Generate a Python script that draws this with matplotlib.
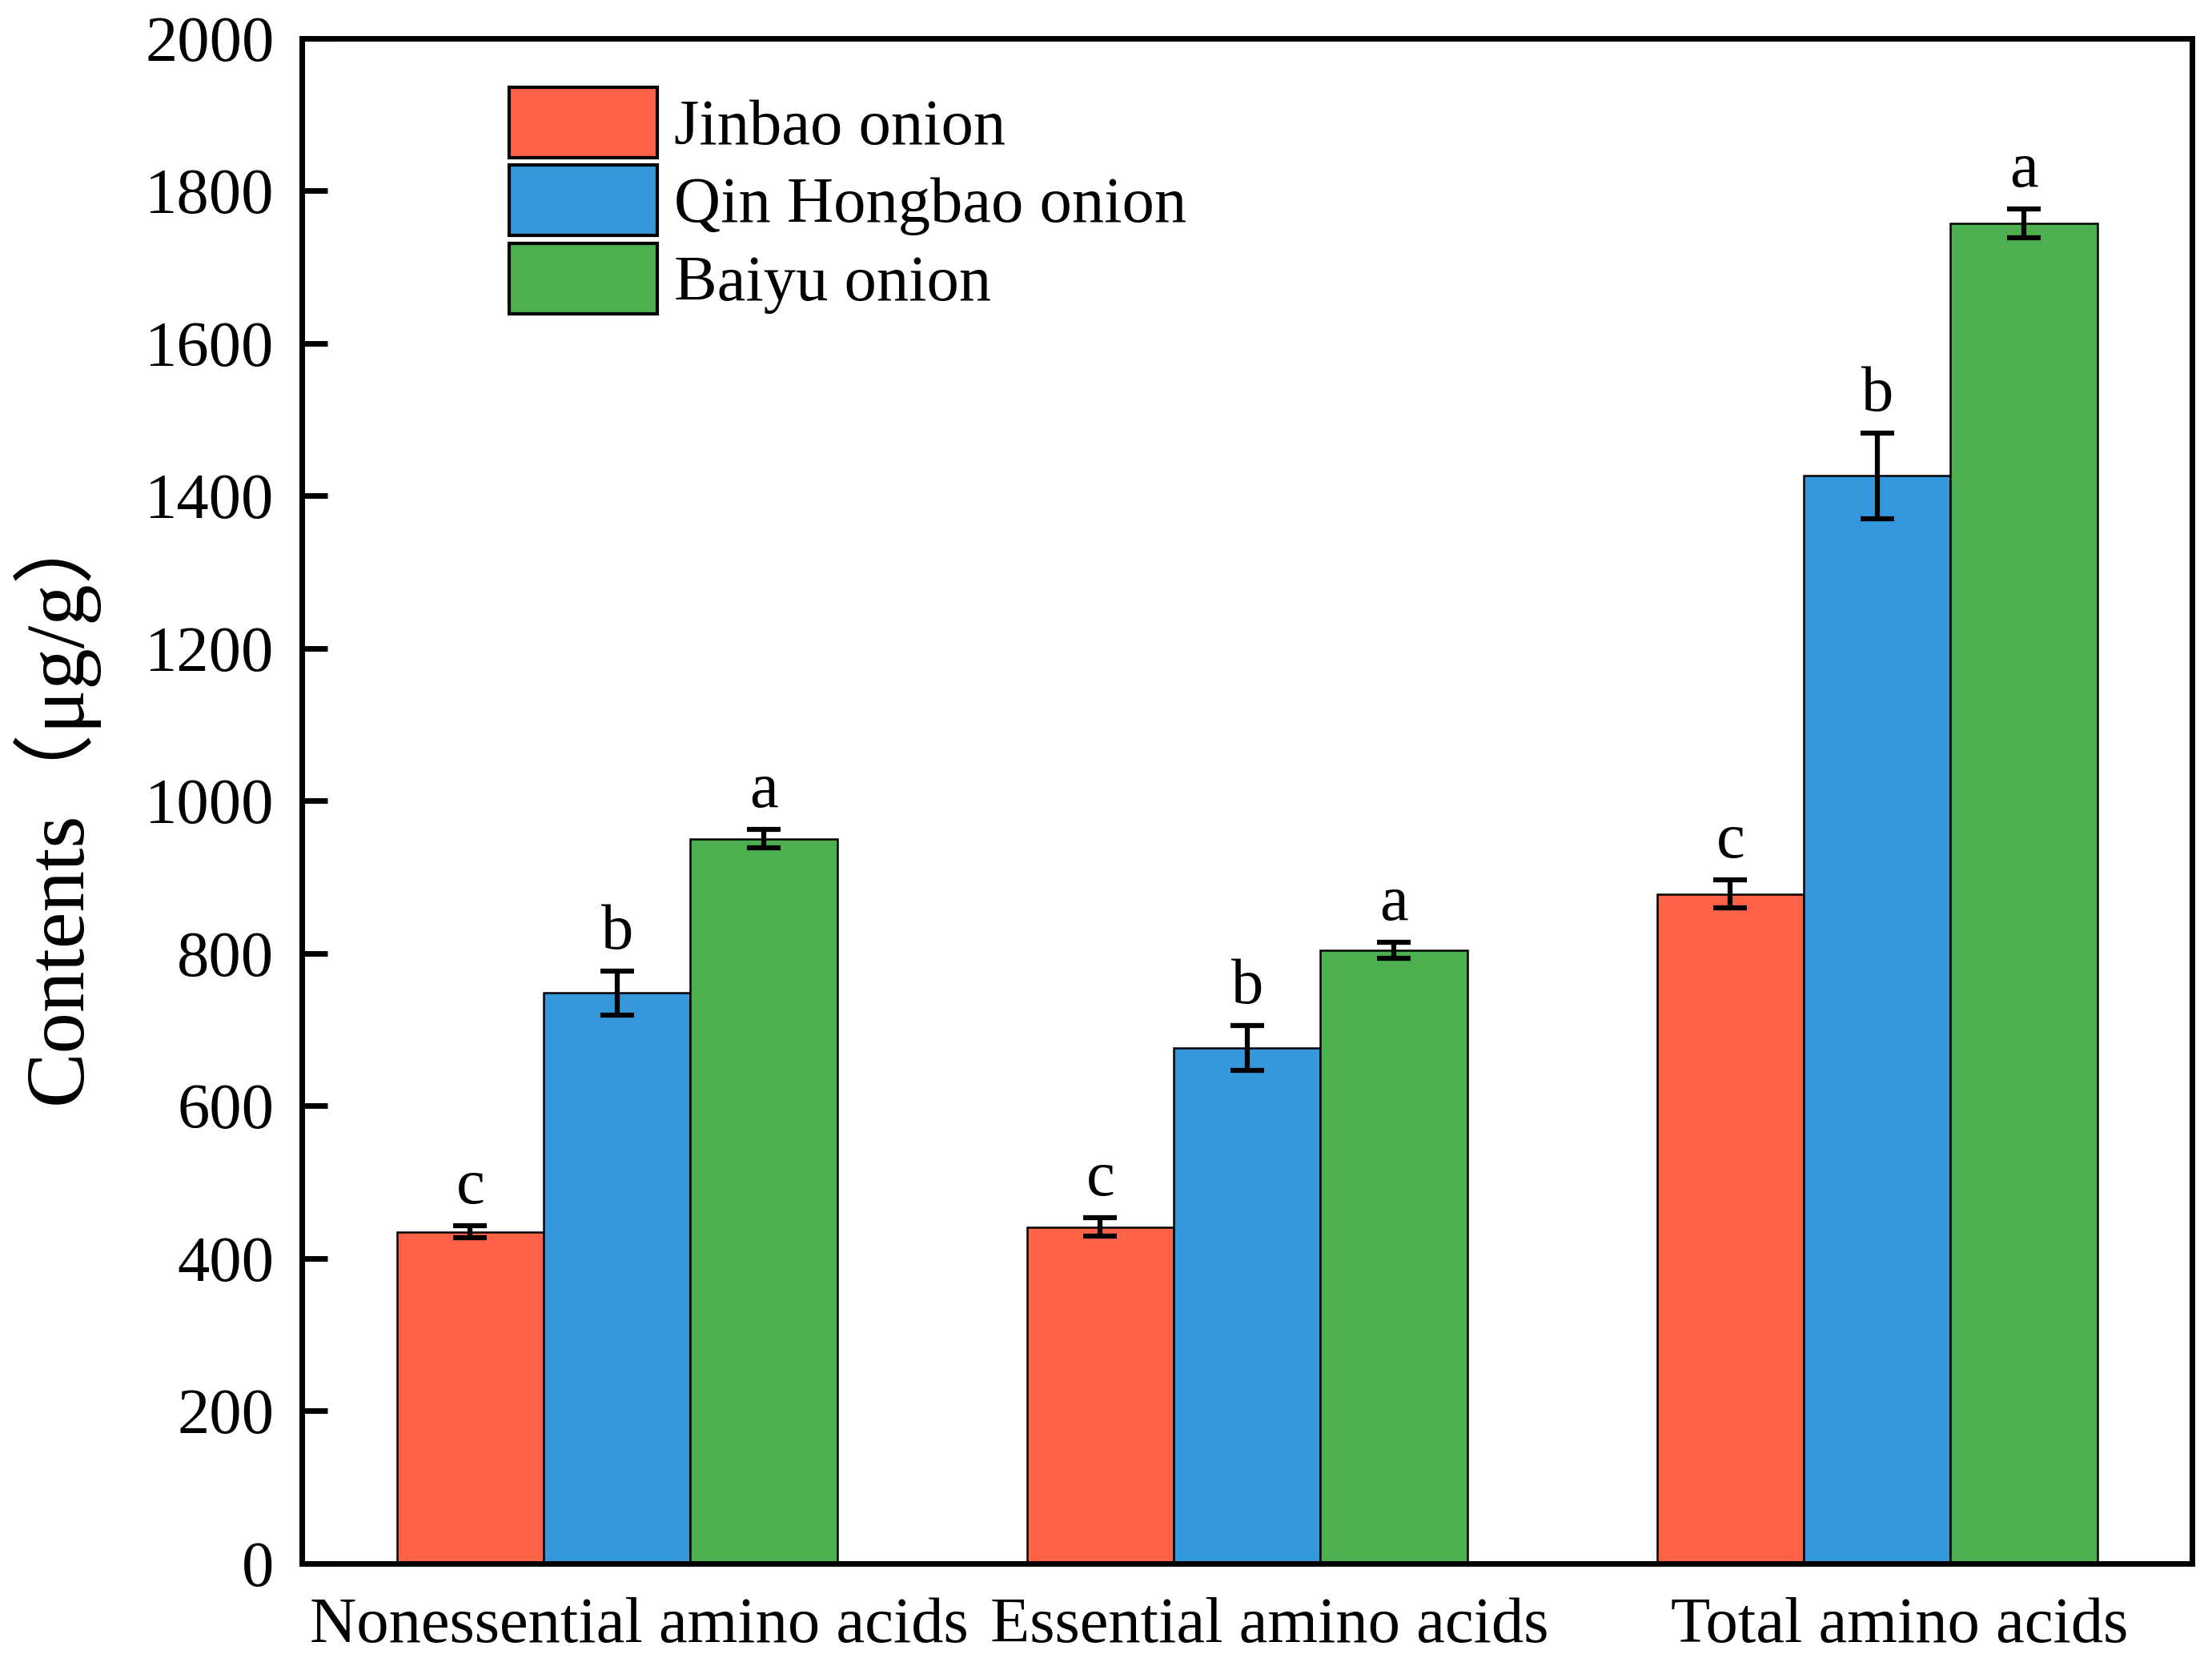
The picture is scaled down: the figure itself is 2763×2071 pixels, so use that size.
import numpy as np
import matplotlib
matplotlib.use("Agg")
import matplotlib.pyplot as plt
from matplotlib.transforms import ScaledTranslation

# values (ug/g)
categories = ["Nonessential amino acids", "Essential amino acids", "Total amino acids"]
series_names = ["Jinbao onion", "Qin Hongbao onion", "Baiyu onion"]
jinbao = [435, 441, 878]
qin_hongbao = [748, 676, 1426]
baiyu = [950, 804, 1757]
jinbao_err = [8, 12, 18]
qin_hongbao_err = [29, 29, 56]
baiyu_err = [12, 10, 19]
jinbao_sig = ["c", "c", "c"]
qin_hongbao_sig = ["b", "b", "b"]
baiyu_sig = ["a", "a", "a"]
colors = ["#FF6347", "#3598DB", "#4CAF50"]

plt.rcParams["font.family"] = ["Liberation Serif", "Noto Sans CJK SC", "DejaVu Sans"]

fig = plt.figure(figsize=(27.63, 20.71), dpi=100)
ax = fig.add_axes([0.1365, 0.057, 0.8545, 0.920])

x = np.arange(len(categories))
width = 0.233
series = [jinbao, qin_hongbao, baiyu]
errs = [jinbao_err, qin_hongbao_err, baiyu_err]
sigs = [jinbao_sig, qin_hongbao_sig, baiyu_sig]

for i in range(len(series)):
    pos = x + (i - 1) * width
    ax.bar(pos, series[i], width, color=colors[i], edgecolor="black",
           linewidth=1.8, label=series_names[i], zorder=2)
    ax.errorbar(pos, series[i], yerr=errs[i], fmt="none", ecolor="black",
                elinewidth=4.5, capsize=15, capthick=4.5, zorder=3)
    for p, v, e, s in zip(pos, series[i], errs[i], sigs[i]):
        ax.annotate(s, (p, v + e), xytext=(0, 8), textcoords="offset points",
                    ha="center", va="bottom", fontsize=58)

ax.set_xlim(-0.5, 2.5)
ax.set_ylim(0, 2000)
ax.set_yticks(np.arange(0, 2001, 200))
ax.set_xticks(x)
ax.set_xticklabels(categories)

for sp in ax.spines.values():
    sp.set_linewidth(5)

ax.tick_params(axis="y", direction="in", length=23, width=5, labelsize=58, pad=25)
ax.tick_params(axis="x", length=0, labelsize=58, pad=30)
# the category labels sit a little right of the group centres
shift = ScaledTranslation(20 / 72, 0, fig.dpi_scale_trans)
for lab in ax.get_xticklabels():
    lab.set_transform(lab.get_transform() + shift)
ax.set_ylabel("Contents（μg/g）", fontsize=74, labelpad=42)

leg = ax.legend(loc="upper left", bbox_to_anchor=(0.079, 1.006), frameon=False,
                fontsize=58, handlelength=2.3, handleheight=1.3,
                labelspacing=0.12, handletextpad=0.25)
for h in leg.legend_handles:
    h.set_linewidth(3)

fig.savefig("out.png", dpi=100)
